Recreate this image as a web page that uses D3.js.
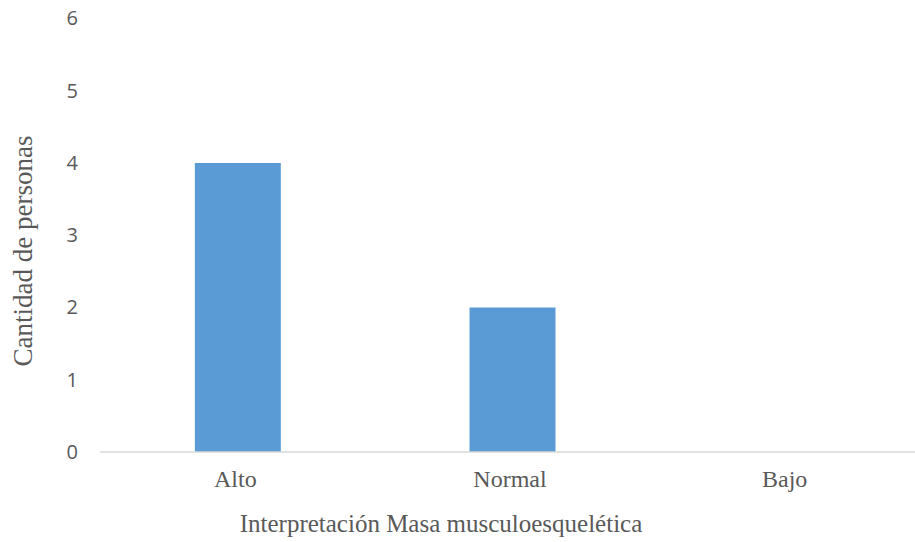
<!DOCTYPE html>
<html>
<head>
<meta charset="utf-8">
<script src="https://cdn.jsdelivr.net/npm/d3@7"></script>
<style>
  html, body { margin: 0; padding: 0; background: #fff; }
  svg { display: block; }
</style>
</head>
<body>
<svg id="chart" width="915" height="542"></svg>
<script>
// Category names and counts per category
const categories = ["Alto", "Normal", "Bajo"];
const counts = [4, 2, 0];
const yTicks = [0, 1, 2, 3, 4, 5, 6];
const xTitle = "Interpretación Masa musculoesquelética";
const yTitle = "Cantidad de personas";

const svg = d3.select("#chart");
const plot = { left: 100.5, right: 924.5, top: 18.5, bottom: 452 };

const x = d3.scaleBand()
  .domain(categories)
  .range([plot.left, plot.right])
  .paddingInner(0.687)
  .paddingOuter(0.3435);

const y = d3.scaleLinear()
  .domain([0, 6])
  .range([plot.bottom, plot.top]);

// Bars
svg.append("g")
  .selectAll("rect")
  .data(categories.map((c, i) => ({ c, v: counts[i] })))
  .join("rect")
  .attr("x", d => x(d.c))
  .attr("y", d => y(d.v))
  .attr("width", x.bandwidth())
  .attr("height", d => y(0) - y(d.v))
  .attr("fill", "#5b9bd5");

// Y axis labels (no axis line)
const yAxis = d3.axisLeft(y).tickValues(yTicks).tickSize(0).tickPadding(0).tickFormat(d3.format("d"));
const gy = svg.append("g")
  .attr("transform", "translate(78,0)")
  .call(yAxis);
gy.select(".domain").remove();
gy.selectAll("text")
  .attr("fill", "#595959")
  .style("font-family", "'Open Sans', 'Noto Sans', sans-serif")
  .style("font-size", "20px");

// Baseline
svg.append("line")
  .attr("x1", plot.left - 0.5)
  .attr("x2", 915)
  .attr("y1", y(0))
  .attr("y2", y(0))
  .attr("stroke", "#d9d9d9")
  .attr("stroke-width", 1.5);

// Category labels
const xAxis = d3.axisBottom(x).tickSize(0).tickPadding(0);
const gx = svg.append("g")
  .attr("transform", `translate(-2.5,${y(0)})`)
  .call(xAxis);
gx.select(".domain").remove();
gx.selectAll("text")
  .attr("dy", null)
  .attr("y", 35)
  .attr("fill", "#595959")
  .style("font-family", "'Liberation Serif', 'Times New Roman', serif")
  .style("font-size", "24px");

// Axis titles
svg.append("text")
  .attr("x", 441)
  .attr("y", 532)
  .attr("text-anchor", "middle")
  .attr("fill", "#595959")
  .style("font-family", "'Liberation Serif', 'Times New Roman', serif")
  .style("font-size", "25px")
  .text(xTitle);

svg.append("text")
  .attr("transform", "translate(32,251) rotate(-90)")
  .attr("text-anchor", "middle")
  .attr("fill", "#595959")
  .style("font-family", "'Liberation Serif', 'Times New Roman', serif")
  .style("font-size", "27px")
  .text(yTitle);
</script>
</body>
</html>
